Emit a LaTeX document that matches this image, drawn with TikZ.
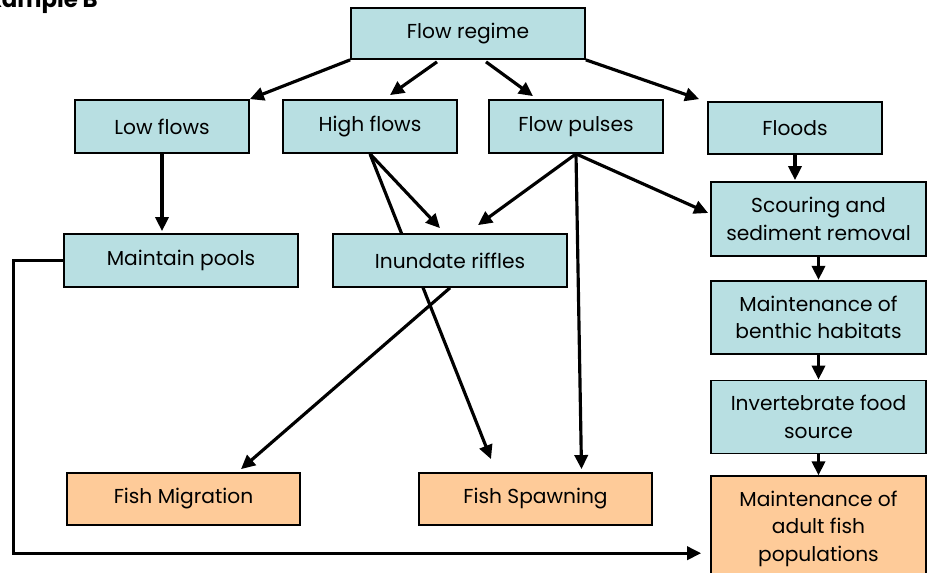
\documentclass[tikz,border=0pt]{standalone}
\usepackage{fontspec}
\setmainfont{Poppins}
\usetikzlibrary{arrows.meta,positioning,calc,backgrounds}
\definecolor{boxblue}{RGB}{184,223,226}
\definecolor{boxorange}{RGB}{254,203,153}

\begin{document}
\begin{tikzpicture}[
  x=0.02cm, y=-0.02cm,
  flowbox/.style={draw, line width=1pt, fill=boxblue, align=center, inner sep=2pt, font=\fontsize{11.5}{15.5}\selectfont},
  fishbox/.style={flowbox, fill=boxorange},
  arrow/.style={-{Triangle[length=8pt,width=7.5pt]}, line width=1.8pt}
]
\useasboundingbox (0,0) rectangle (927,573);

\node[anchor=base east, font=\bfseries\fontsize{13}{15}\selectfont] (title) at (104,8) {Example B};

% top row
\node[flowbox, minimum width=4.68cm, minimum height=1.02cm] (regime) at (468,33.5) {Flow regime};
\node[flowbox, minimum width=3.48cm, minimum height=1.06cm] (low) at (162,126.5) {Low flows};
\node[flowbox, minimum width=3.48cm, minimum height=1.06cm] (high) at (370,126.5) {High flows};
\node[flowbox, minimum width=3.48cm, minimum height=1.06cm] (pulses) at (576,126.5) {Flow pulses};
\node[flowbox, minimum width=3.48cm, minimum height=1.04cm] (floods) at (795,128) {Floods};

% right column
\node[flowbox, minimum width=4.3cm, minimum height=1.48cm] (scour) at (818.5,219) {Scouring and\\sediment removal};
\node[flowbox, minimum width=4.3cm, minimum height=1.46cm, below=0.46cm of scour] (benthic) {Maintenance of\\benthic habitats};
\node[flowbox, minimum width=4.3cm, minimum height=1.46cm, below=0.5cm of benthic] (invert) {Invertebrate food\\source};
\node[fishbox, minimum width=4.3cm, minimum height=2.1cm, below=0.42cm of invert] (adult) {Maintenance of\\adult fish\\populations};

% middle and bottom
\node[flowbox, minimum width=4.68cm, minimum height=1.06cm] (pools) at (181,260.5) {Maintain pools};
\node[flowbox, minimum width=4.68cm, minimum height=1.06cm] (riffles) at (450,260.5) {Inundate riffles};
\node[fishbox, minimum width=4.66cm, minimum height=1.04cm] (migration) at (183.5,499) {Fish Migration};
\node[fishbox, minimum width=4.66cm, minimum height=1.04cm] (spawning) at (535.5,499) {Fish Spawning};

\begin{pgfonlayer}{background}
\draw[arrow] (regime.south west) -- (low.north east);
\draw[arrow] ($(regime.south)+(-31,2)$) -- ($(high.north)+(20,-4)$);
\draw[arrow] ($(regime.south)+(18,2)$) -- ($(pulses.north)+(-43,-3)$);
\draw[arrow] (regime.south east) -- ($(floods.north west)+(-8,-2)$);
\draw[arrow] (low.south) -- ($(low.south |- pools.north)+(0,-2)$);
\draw[arrow] (floods.south) -- ($(floods.south |- scour.north)+(0,-1)$);
\draw[arrow] (scour.south) -- (benthic.north);
\draw[arrow] (benthic.south) -- (invert.north);
\draw[arrow] (invert.south) -- (adult.north);
\draw[arrow] (high.south) -- ($(riffles.north)+(-10,-5)$);
\draw[arrow] (high.south) -- ($(spawning.north)+(-44.5,-13)$);
\draw[arrow] (pulses.south) -- ($(riffles.north)+(28,-8)$);
\draw[arrow] (pulses.south) -- ($(spawning.north)+(46,-3)$);
\draw[arrow] (pulses.south) -- ($(scour.west)+(-2,-6)$);
\draw[arrow] (riffles.south) -- ($(migration.north)+(57.5,-3)$);
\draw[arrow] (pools.west) -- ++(-50,0) |- ($(adult.west)+(-9,24.5)$);
\end{pgfonlayer}
\end{tikzpicture}
\end{document}
